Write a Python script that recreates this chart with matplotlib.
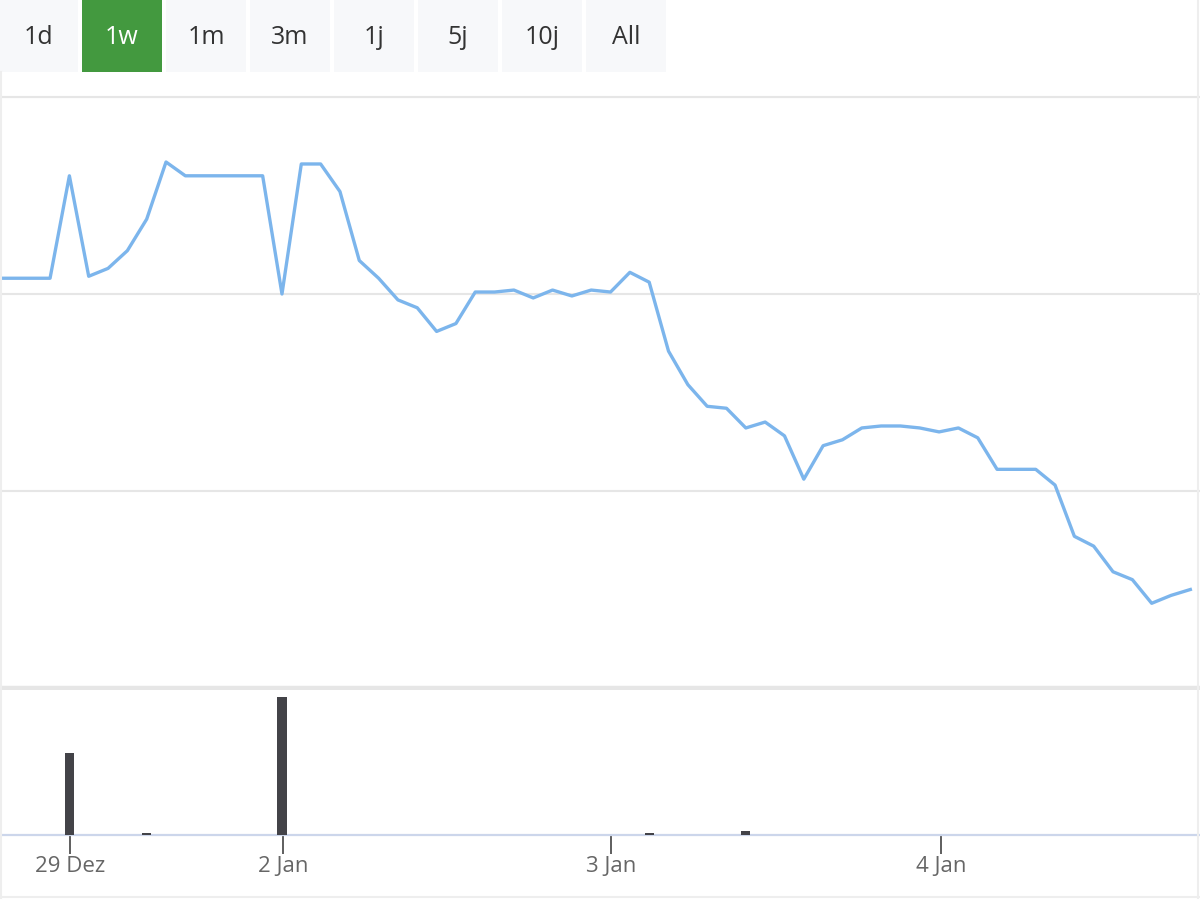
import matplotlib
matplotlib.use("Agg")
import matplotlib.pyplot as plt
from matplotlib.patches import Rectangle
from matplotlib.lines import Line2D

plt.rcParams["font.family"] = ["Open Sans", "DejaVu Sans"]

# price series (relative units, one gridline step = 1.0); first point lies just left of the view
price = [
    2.08, 2.08, 2.08, 2.08, 2.60, 2.09, 2.13, 2.22, 2.38, 2.67,
    2.60, 2.60, 2.60, 2.60, 2.60, 2.00, 2.66, 2.66, 2.52, 2.17,
    2.08, 1.97, 1.93, 1.81, 1.85, 2.01, 2.01, 2.02, 1.98, 2.02,
    1.99, 2.02, 2.01, 2.11, 2.06, 1.71, 1.54, 1.43, 1.42, 1.32,
    1.35, 1.28, 1.06, 1.23, 1.26, 1.32, 1.33, 1.33, 1.32, 1.30,
    1.32, 1.27, 1.11, 1.11, 1.11, 1.03, 0.77, 0.72, 0.59, 0.55,
    0.43, 0.47, 0.50,
]
vol_idx = [4, 8, 15, 34, 39]
volume = [8200, 250, 13800, 200, 450]

tick_pos = [4.05, 15.05, 32.05, 49.1]
tick_labels = ["29 Dez", "2 Jan", "3 Jan", "4 Jan"]
buttons = ["1d", "1w", "1m", "3m", "1j", "5j", "10j", "All"]
selected = "1w"

W, H = 1200, 900
fig = plt.figure(figsize=(12, 9), dpi=100)
fig.patch.set_facecolor("white")


def fx(px):
    return px / W


def fy(py):
    return 1 - py / H


# range selector buttons
for k, name in enumerate(buttons):
    x0 = -2 + 84 * k
    sel = name == selected
    fig.add_artist(Rectangle((fx(x0), fy(72)), fx(80), 72 / H,
                             transform=fig.transFigure,
                             facecolor="#43993f" if sel else "#f7f8fa",
                             edgecolor="none"))
    fig.text(fx(x0 + 40), fy(37), name, ha="center", va="center",
             fontsize=18, color="white" if sel else "#333333")

xmin, xmax = 0.41, 62.5

# price panel
ax = fig.add_axes([0, fy(688), 1, (688 - 97) / H])
x = list(range(len(price)))
ax.plot(x, price, color="#7cb5ec", lw=2.4, solid_joinstyle="round", zorder=3)
ax.set_xlim(xmin, xmax)
ax.set_ylim(0, 3)
ax.set_yticks([0, 1, 2, 3])
ax.grid(axis="y", color="#e6e6e6", lw=1.5)
ax.axhline(0, color="#e6e6e6", lw=3.2, clip_on=False, zorder=4)
ax.axhline(3, color="#e6e6e6", lw=1.5, clip_on=False)
ax.set_xticks([])
ax.tick_params(left=False, labelleft=False)
for s in ax.spines.values():
    s.set_visible(False)

# volume panel
axv = fig.add_axes([0, fy(835), 1, (835 - 690) / H])
axv.bar(vol_idx, volume, width=0.48, color="#434348", zorder=3)
axv.set_xlim(xmin, xmax)
axv.set_ylim(0, 14500)
axv.set_yticks([])
for s in ["top", "left", "right"]:
    axv.spines[s].set_visible(False)
axv.spines["bottom"].set_color("#ccd6eb")
axv.spines["bottom"].set_linewidth(1.6)
axv.set_xticks(tick_pos)
axv.set_xticklabels(tick_labels)
axv.tick_params(axis="x", length=14, width=1.1, color="#333333",
                labelcolor="#666666", labelsize=16, pad=1)

# faint outer border (left, right, bottom)
border = "#eeeeee"
fig.add_artist(Line2D([0.001, 0.001], [0.002, fy(72)], transform=fig.transFigure,
                      color=border, lw=1.5))
fig.add_artist(Line2D([0.9985, 0.9985], [0.002, fy(0)], transform=fig.transFigure,
                      color=border, lw=1.5))
fig.add_artist(Line2D([0, 1], [0.003, 0.003], transform=fig.transFigure,
                      color=border, lw=1.5))

fig.savefig("out.png", dpi=100)
